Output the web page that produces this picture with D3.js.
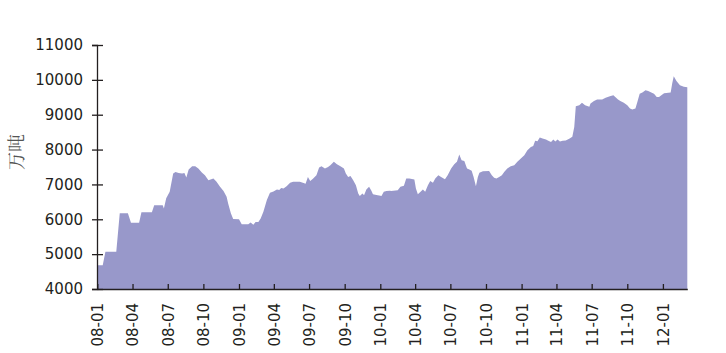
<!DOCTYPE html>
<html>
<head>
<meta charset="utf-8">
<script src="https://cdn.jsdelivr.net/npm/d3@7"></script>
<style>
  body { margin: 0; background: #fff; }
</style>
</head>
<body>
<div id="my_dataviz"></div>
<script>

// weekly-ish readings, 万吨
var dates = [
  "2008-01-01","2008-01-15","2008-01-22","2008-02-19","2008-02-28","2008-03-20","2008-03-28","2008-04-18",
  "2008-04-24","2008-05-21","2008-05-27","2008-06-18","2008-06-21","2008-06-27","2008-07-06","2008-07-15",
  "2008-07-21","2008-07-29","2008-08-07","2008-08-13","2008-08-18","2008-08-24","2008-09-02","2008-09-10",
  "2008-09-18","2008-09-27","2008-10-05","2008-10-14","2008-10-27","2008-11-04","2008-11-13","2008-11-22",
  "2008-11-30","2008-12-04","2008-12-11","2008-12-17","2009-01-01","2009-01-08","2009-01-25","2009-01-31",
  "2009-02-07","2009-02-13","2009-02-20","2009-02-26","2009-03-05","2009-03-14","2009-03-22","2009-03-31",
  "2009-04-09","2009-04-15","2009-04-20","2009-04-26","2009-05-04","2009-05-13","2009-05-21","2009-06-07",
  "2009-06-15","2009-06-22","2009-06-28","2009-07-04","2009-07-11","2009-07-20","2009-07-27","2009-08-02",
  "2009-08-11","2009-08-19","2009-08-25","2009-09-03","2009-09-11","2009-09-20","2009-09-29","2009-10-04",
  "2009-10-10","2009-10-16","2009-10-23","2009-10-30","2009-11-05","2009-11-09","2009-11-16","2009-11-20",
  "2009-11-26","2009-12-03","2009-12-09","2009-12-13","2009-12-22","2009-12-29","2010-01-04","2010-01-10",
  "2010-01-17","2010-01-26","2010-01-29","2010-02-15","2010-02-22","2010-03-03","2010-03-09","2010-03-17",
  "2010-03-30","2010-04-03","2010-04-08","2010-04-15","2010-04-21","2010-04-27","2010-05-04","2010-05-10",
  "2010-05-17","2010-05-23","2010-05-31","2010-06-07","2010-06-17","2010-06-24","2010-07-03","2010-07-11",
  "2010-07-18","2010-07-24","2010-07-30","2010-08-06","2010-08-13","2010-08-19","2010-08-25","2010-08-30",
  "2010-09-05","2010-09-10","2010-09-14","2010-09-23","2010-10-09","2010-10-16","2010-10-22","2010-10-28",
  "2010-11-04","2010-11-11","2010-11-17","2010-11-25","2010-12-04","2010-12-13","2010-12-21","2010-12-30",
  "2011-01-08","2011-01-16","2011-01-25","2011-01-31","2011-02-05","2011-02-11","2011-02-17","2011-02-24",
  "2011-03-05","2011-03-11","2011-03-18","2011-03-24","2011-03-29","2011-04-04","2011-04-10","2011-04-17",
  "2011-04-25","2011-05-04","2011-05-12","2011-05-17","2011-05-21","2011-05-30","2011-06-06","2011-06-14",
  "2011-06-25","2011-06-28","2011-07-07","2011-07-15","2011-07-28","2011-08-06","2011-08-17","2011-08-26",
  "2011-08-31","2011-09-07","2011-09-13","2011-09-22","2011-10-01","2011-10-08","2011-10-14","2011-10-22",
  "2011-10-27","2011-11-02","2011-11-09","2011-11-17","2011-11-24","2011-12-02","2011-12-09","2011-12-16",
  "2011-12-22","2011-12-28","2012-01-04","2012-01-21","2012-01-25","2012-01-29","2012-02-05","2012-02-14",
  "2012-02-24","2012-03-04"
];

var stock = [
  4680,4680,5070,5070,6170,6170,5900,5900,
  6200,6200,6400,6400,6310,6600,6790,7315,
  7360,7330,7315,7330,7200,7430,7525,7525,
  7460,7345,7265,7120,7170,7075,6930,6815,
  6645,6455,6170,6005,6000,5855,5855,5910,
  5845,5925,5925,6025,6215,6550,6760,6800,
  6855,6840,6900,6880,6950,7045,7075,7075,
  7045,7020,7215,7100,7160,7265,7485,7525,
  7460,7500,7550,7650,7580,7525,7460,7315,
  7215,7245,7120,6980,6740,6665,6740,6690,
  6855,6930,6820,6720,6700,6685,6665,6790,
  6810,6820,6815,6835,6930,6960,7170,7170,
  7140,6885,6720,6790,6855,6790,6980,7100,
  7045,7170,7265,7215,7150,7265,7460,7580,
  7650,7860,7695,7670,7460,7430,7390,7215,
  6950,7215,7335,7380,7385,7265,7190,7170,
  7215,7265,7360,7460,7525,7550,7650,7745,
  7840,7980,8075,8100,8250,8240,8345,8315,
  8290,8255,8220,8290,8230,8290,8230,8255,
  8260,8310,8365,8650,9245,9270,9340,9270,
  9225,9320,9395,9435,9440,9490,9530,9560,
  9510,9435,9395,9340,9270,9175,9150,9175,
  9365,9605,9635,9700,9680,9635,9605,9510,
  9510,9560,9615,9635,9895,10100,9970,9845,
  9800,9790
];

var yTicks = [4000, 5000, 6000, 7000, 8000, 9000, 10000, 11000];
var yTitle = "万吨";

var margin = {top: 45, right: 39, bottom: 64, left: 97},
    width = 726 - margin.left - margin.right,
    height = 353 - margin.top - margin.bottom;

var svg = d3.select("#my_dataviz")
  .append("svg")
    .attr("width", 726)
    .attr("height", 353)
  .append("g")
    .attr("transform", "translate(" + margin.left + "," + margin.top + ")");

var parse = d3.timeParse("%Y-%m-%d");
var data = dates.map(function(d, i) { return {date: parse(d), value: stock[i]}; });

var x = d3.scaleTime()
  .domain(d3.extent(data, function(d) { return d.date; }))
  .range([0.3, width + 0.3]);

var y = d3.scaleLinear()
  .domain([4000, 11000])
  .range([height, 0]);

// the filled area
svg.append("path")
  .datum(data)
  .attr("fill", "#9898ca")
  .attr("d", d3.area()
    .x(function(d) { return x(d.date); })
    .y0(height)
    .y1(function(d) { return y(d.value); })
  );

var axisColor = "#231f20";
var font = "'DejaVu Sans', Verdana, sans-serif";

// Y axis, ticks cross the line
var yAxis = svg.append("g")
  .call(d3.axisLeft(y).tickValues(yTicks).tickFormat(d3.format("d"))
    .tickSizeOuter(0).tickSize(5).tickPadding(9));
yAxis.selectAll(".tick line").attr("x2", 6).attr("x1", -5);

// X axis, ticks pointing inward
var xAxis = svg.append("g")
  .attr("transform", "translate(0," + height + ")")
  .call(d3.axisBottom(x)
    .ticks(d3.timeMonth.every(3))
    .tickFormat(d3.timeFormat("%y-%m"))
    .tickSizeInner(-5)
    .tickSizeOuter(0));
xAxis.selectAll(".tick text")
  .attr("transform", "rotate(-90)")
  .attr("text-anchor", "end")
  .attr("x", -14)
  .attr("y", 0)
  .attr("dy", "0.36em");

[yAxis, xAxis].forEach(function(a) {
  a.select(".domain").attr("stroke", axisColor).attr("stroke-width", 1.3);
  a.selectAll(".tick line").attr("stroke", axisColor).attr("stroke-width", 1.3);
  a.selectAll(".tick text")
    .attr("fill", axisColor)
    .style("font-family", font)
    .style("font-size", "15px");
});

// y title
svg.append("text")
  .attr("transform", "translate(" + (17 - margin.left) + "," + (152 - margin.top) + ") rotate(-90)")
  .attr("text-anchor", "middle")
  .attr("dy", "0.35em")
  .attr("fill", "#555")
  .style("font-family", "'Noto Serif CJK SC', 'Noto Sans CJK SC', serif")
  .style("font-size", "18px")
  .text(yTitle);

</script>
</body>
</html>
